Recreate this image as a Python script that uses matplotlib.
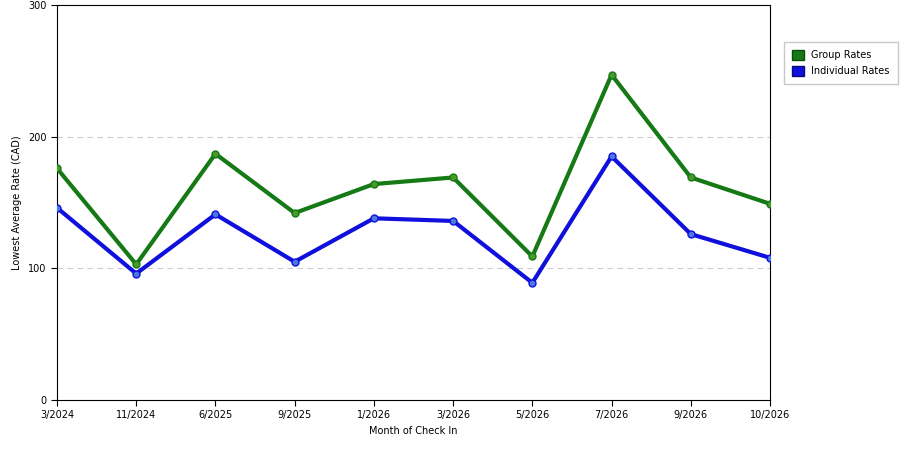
import matplotlib
matplotlib.use("Agg")
import matplotlib.pyplot as plt
from matplotlib.patches import Patch

months = ["3/2024","11/2024","6/2025","9/2025","1/2026","3/2026","5/2026","7/2026","9/2026","10/2026"]
group_rates = [176, 103, 187, 142, 164, 169, 109, 247, 169, 149]
individual_rates = [146, 96, 141, 105, 138, 136, 89, 185, 126, 108]

fig = plt.figure(figsize=(9, 4.5), dpi=100)
ax = fig.add_axes([0.0633, 0.111, 0.7923, 0.878])
x = range(len(months))
ax.plot(x, group_rates, color="#157a15", lw=3, marker="o", ms=5, mfc="#4a9a2a", mec="#157a15", zorder=3)
ax.plot(x, individual_rates, color="#1010dd", lw=3, marker="o", ms=5, mfc="#4a7ae0", mec="#1010dd", zorder=3)
ax.set_xlim(0, len(months) - 1)
ax.set_ylim(0, 300)
ax.set_yticks([0, 100, 200, 300])
ax.set_xticks(list(x))
ax.set_xticklabels(months)
ax.tick_params(labelsize=7, length=4)
for v in [100, 200]:
    ax.axhline(v, color="#cccccc", ls=(0, (5, 4)), lw=0.8, zorder=1)
ax.set_xlabel("Month of Check In", fontsize=7)
ax.set_ylabel("Lowest Average Rate (CAD)", fontsize=7)
handles = [Patch(facecolor="#157a15", edgecolor="#0a4a0a", label="Group Rates"),
           Patch(facecolor="#1010dd", edgecolor="#0a0a80", label="Individual Rates")]
leg = fig.legend(handles=handles, loc="upper left", bbox_to_anchor=(0.866, 0.917),
                 fontsize=7, frameon=True, fancybox=False, handlelength=1.2, handleheight=1.2,
                 borderpad=0.8, labelspacing=0.6)
leg.get_frame().set_edgecolor("#bbbbbb")
fig.savefig("out.png", dpi=100)
